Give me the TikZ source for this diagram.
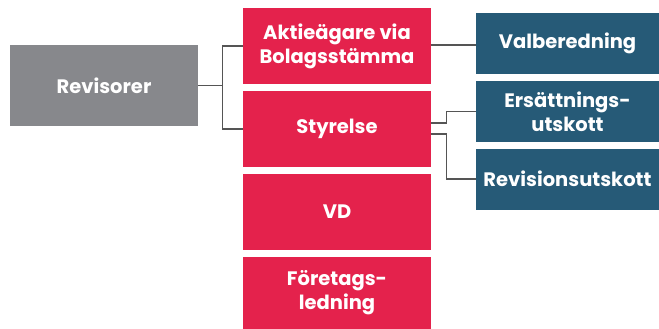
\documentclass[tikz,border=0pt]{standalone}
\usepackage{fontspec}
\setmainfont{Poppins}
\usepackage{tikz}
\usetikzlibrary{positioning,calc}
\definecolor{boxred}{HTML}{E4224C}
\definecolor{boxblue}{HTML}{265A77}
\definecolor{boxgrey}{HTML}{87888C}
\definecolor{linegrey}{HTML}{555555}
\begin{document}
\begin{tikzpicture}[x=1pt,y=-1pt]
        \tikzstyle{every node} = [align=center, text=white, inner sep=0pt, font=\fontsize{19.5}{24}\selectfont\bfseries]
        \tikzstyle{red box} = [fill=boxred, minimum width=188pt, minimum height=76pt]
        \tikzstyle{blue box} = [fill=boxblue, minimum width=183pt, minimum height=61pt]
        \tikzstyle{link} = [draw=linegrey, line width=1.3pt]
        \useasboundingbox (0,0) rectangle (659,329);
        \node[fill=boxgrey, minimum width=188pt, minimum height=81pt](rev) at (104,85.5){Revisorer};
        \node[red box](akt) at (337,46){Aktieägare via\\Bolagsstämma};
        \node[red box](sty) at (337,129){Styrelse};
        \node[red box](vd) at (337,212){VD};
        \node[red box, minimum height=72pt](ftl) at (337,293){Företags-\\ledning};
        \node[blue box](val) at (567.5,43.5){Valberedning};
        \node[blue box](ers) at (567.5,111.5){Ersättnings-\\utskott};
        \node[blue box](rvu) at (567.5,179){Revisionsutskott};

        \coordinate (j1) at ($(rev.east)+(24,0)$);
        \path[link] (rev.east) -- (j1) |- (akt.west);
        \path[link] (j1) |- (sty.west);
        \path[link] ([yshift=1pt]akt.east) -- ([yshift=1pt]akt.east -| val.west);
        \path[link] ([yshift=6pt]sty.east) -- ++(15,0) |- (ers.west);
        \path[link] ([yshift=-5pt]sty.east) -- ++(15,0) |- (rvu.west);
    \end{tikzpicture}
\end{document}
